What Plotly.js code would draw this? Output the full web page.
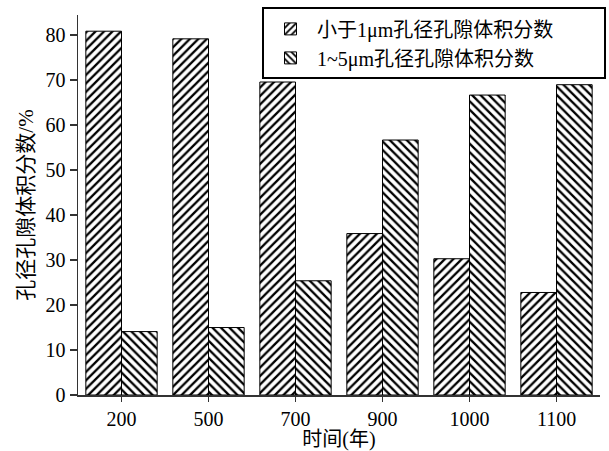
<!DOCTYPE html>
<html>
<head>
<meta charset="utf-8">
<script src="https://cdn.plot.ly/plotly-3.0.1.min.js"></script>
<style>html,body{margin:0;padding:0;background:#fff;}#chart{width:609px;height:451px;}</style>
</head>
<body>
<div id="chart"></div>
<script>
const categories = ['200', '500', '700', '900', '1000', '1100'];
const seriesNames = ['小于1μm孔径孔隙体积分数', '1~5μm孔径孔隙体积分数'];
const lessThan1um = [80.9, 79.2, 69.6, 35.9, 30.3, 22.8];
const from1to5um = [14.1, 15.0, 25.4, 56.7, 66.7, 69.0];
const yTicks = [0, 10, 20, 30, 40, 50, 60, 70, 80];

const FONT = '"Liberation Serif", "Times New Roman", "Noto Sans CJK SC", serif';

function barTrace(name, values, shape) {
  return {
    type: 'bar',
    name: name,
    x: categories,
    y: values,
    marker: {
      color: '#ffffff',
      line: {color: '#000000', width: 1},
      pattern: {shape: shape, fgcolor: '#000000', bgcolor: '#ffffff', size: 6, solidity: 0.38}
    }
  };
}

const data = [
  barTrace(seriesNames[0], lessThan1um, '/'),
  barTrace(seriesNames[1], from1to5um, '\\')
];

const layout = {
  width: 609,
  height: 451,
  margin: {l: 78, r: 9, t: 15, b: 56, autoexpand: false},
  paper_bgcolor: '#ffffff',
  plot_bgcolor: '#ffffff',
  font: {family: FONT, size: 20, color: '#000000'},
  barmode: 'group',
  bargap: 0.18,
  bargroupgap: 0,
  showlegend: true,
  legend: {
    orientation: 'h',
    entrywidthmode: 'pixels',
    entrywidth: 282,
    x: 0.3525, y: 1.02, xanchor: 'left', yanchor: 'top',
    bgcolor: '#ffffff', bordercolor: '#000000', borderwidth: 2,
    font: {family: FONT, size: 20, color: '#000000'},
    itemwidth: 43,
    tracegroupgap: 0
  },
  xaxis: {
    type: 'category',
    range: [-0.5, 5.5],
    showline: true, linecolor: '#333333', linewidth: 1.5,
    ticks: 'outside', ticklen: 5, tickcolor: '#333333', tickwidth: 1.5,
    showgrid: false, zeroline: false,
    tickfont: {family: FONT, size: 20, color: '#000000'},
    title: {text: '时间(年)', font: {family: FONT, size: 20, color: '#000000'}, standoff: 4}
  },
  yaxis: {
    range: [0, 84.5],
    tickvals: yTicks,
    showline: true, linecolor: '#333333', linewidth: 1.5,
    ticks: 'outside', ticklen: 7, tickcolor: '#333333', tickwidth: 1.5,
    showgrid: false, zeroline: false,
    tickfont: {family: FONT, size: 20, color: '#000000'},
    title: {text: '孔径孔隙体积分数/%', font: {family: FONT, size: 21, color: '#000000'}, standoff: 6}
  }
};

Plotly.newPlot('chart', data, layout, {displayModeBar: false, staticPlot: true});
</script>
</body>
</html>
